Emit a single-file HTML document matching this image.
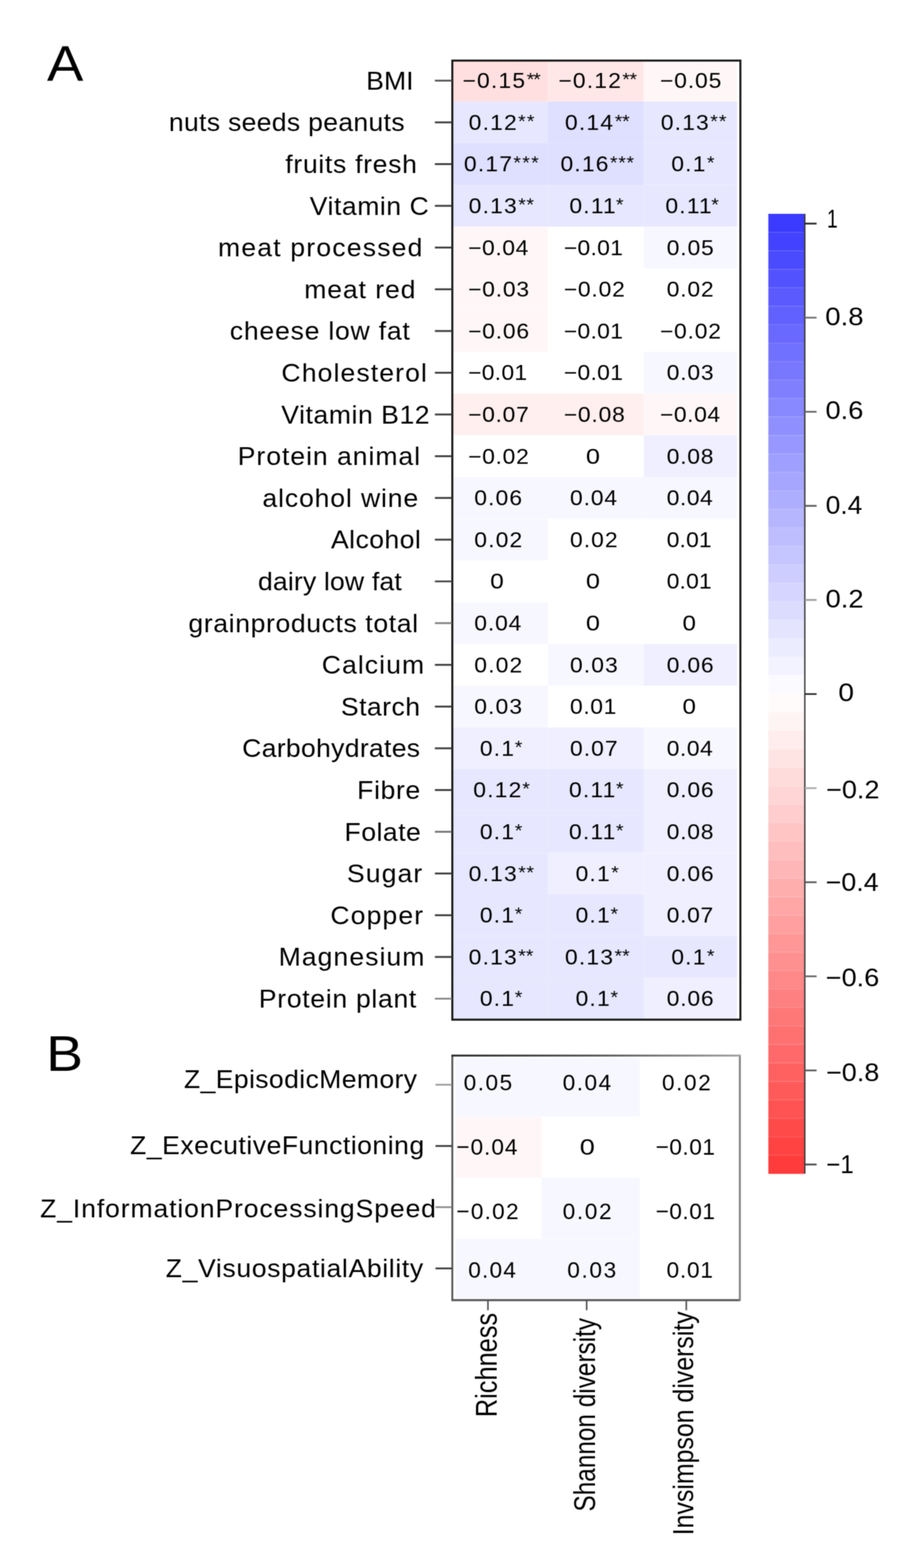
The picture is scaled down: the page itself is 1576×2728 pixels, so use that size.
<!DOCTYPE html>
<html><head><meta charset="utf-8"><title>Figure</title>
<style>html,body{margin:0;padding:0;background:#fff;}svg{display:block;}</style>
</head><body>
<svg width="1576" height="2728" viewBox="0 0 1576 2728" font-family='"Liberation Sans", Arial, Helvetica, sans-serif' fill="#000">
<defs><filter id="soft" color-interpolation-filters="sRGB" x="0" y="0" width="1576" height="2728" filterUnits="userSpaceOnUse" primitiveUnits="userSpaceOnUse"><feConvolveMatrix order="3" kernelMatrix="1 2 1 2 4 2 1 2 1" divisor="16" edgeMode="duplicate" preserveAlpha="true"/></filter></defs>
<rect width="1576" height="2728" fill="#fff"/>
<g filter="url(#soft)"><rect width="1576" height="2728" fill="#fff"/>
<rect x="788.0" y="104.0" width="165.2" height="72.6" fill="rgb(255,223,223)"/>
<rect x="953.2" y="104.0" width="166.5" height="72.6" fill="rgb(255,231,231)"/>
<rect x="1119.7" y="104.0" width="162.3" height="72.6" fill="rgb(255,247,247)"/>
<rect x="788.0" y="176.6" width="165.2" height="72.6" fill="rgb(231,231,255)"/>
<rect x="953.2" y="176.6" width="166.5" height="72.6" fill="rgb(223,223,255)"/>
<rect x="1119.7" y="176.6" width="162.3" height="72.6" fill="rgb(231,231,255)"/>
<rect x="788.0" y="249.2" width="165.2" height="72.6" fill="rgb(223,223,255)"/>
<rect x="953.2" y="249.2" width="166.5" height="72.6" fill="rgb(223,223,255)"/>
<rect x="1119.7" y="249.2" width="162.3" height="72.6" fill="rgb(231,231,255)"/>
<rect x="788.0" y="321.8" width="165.2" height="72.6" fill="rgb(231,231,255)"/>
<rect x="953.2" y="321.8" width="166.5" height="72.6" fill="rgb(231,231,255)"/>
<rect x="1119.7" y="321.8" width="162.3" height="72.6" fill="rgb(231,231,255)"/>
<rect x="788.0" y="394.4" width="165.2" height="72.6" fill="rgb(255,247,247)"/>
<rect x="1119.7" y="394.4" width="162.3" height="72.6" fill="rgb(247,247,255)"/>
<rect x="788.0" y="467.0" width="165.2" height="72.6" fill="rgb(255,247,247)"/>
<rect x="788.0" y="539.6" width="165.2" height="72.6" fill="rgb(255,247,247)"/>
<rect x="1119.7" y="612.2" width="162.3" height="72.6" fill="rgb(247,247,255)"/>
<rect x="788.0" y="684.8" width="165.2" height="72.6" fill="rgb(255,239,239)"/>
<rect x="953.2" y="684.8" width="166.5" height="72.6" fill="rgb(255,239,239)"/>
<rect x="1119.7" y="684.8" width="162.3" height="72.6" fill="rgb(255,247,247)"/>
<rect x="1119.7" y="757.4" width="162.3" height="72.6" fill="rgb(239,239,255)"/>
<rect x="788.0" y="830.0" width="165.2" height="72.6" fill="rgb(247,247,255)"/>
<rect x="953.2" y="830.0" width="166.5" height="72.6" fill="rgb(247,247,255)"/>
<rect x="1119.7" y="830.0" width="162.3" height="72.6" fill="rgb(247,247,255)"/>
<rect x="788.0" y="902.6" width="165.2" height="72.6" fill="rgb(247,247,255)"/>
<rect x="788.0" y="1047.8" width="165.2" height="72.6" fill="rgb(247,247,255)"/>
<rect x="953.2" y="1120.4" width="166.5" height="72.6" fill="rgb(247,247,255)"/>
<rect x="1119.7" y="1120.4" width="162.3" height="72.6" fill="rgb(239,239,255)"/>
<rect x="788.0" y="1193.0" width="165.2" height="72.6" fill="rgb(247,247,255)"/>
<rect x="788.0" y="1265.6" width="165.2" height="72.6" fill="rgb(239,239,255)"/>
<rect x="953.2" y="1265.6" width="166.5" height="72.6" fill="rgb(239,239,255)"/>
<rect x="1119.7" y="1265.6" width="162.3" height="72.6" fill="rgb(247,247,255)"/>
<rect x="788.0" y="1338.2" width="165.2" height="72.6" fill="rgb(231,231,255)"/>
<rect x="953.2" y="1338.2" width="166.5" height="72.6" fill="rgb(231,231,255)"/>
<rect x="1119.7" y="1338.2" width="162.3" height="72.6" fill="rgb(239,239,255)"/>
<rect x="788.0" y="1410.8" width="165.2" height="72.6" fill="rgb(231,231,255)"/>
<rect x="953.2" y="1410.8" width="166.5" height="72.6" fill="rgb(231,231,255)"/>
<rect x="1119.7" y="1410.8" width="162.3" height="72.6" fill="rgb(239,239,255)"/>
<rect x="788.0" y="1483.4" width="165.2" height="72.6" fill="rgb(231,231,255)"/>
<rect x="953.2" y="1483.4" width="166.5" height="72.6" fill="rgb(239,239,255)"/>
<rect x="1119.7" y="1483.4" width="162.3" height="72.6" fill="rgb(239,239,255)"/>
<rect x="788.0" y="1556.0" width="165.2" height="72.6" fill="rgb(231,231,255)"/>
<rect x="953.2" y="1556.0" width="166.5" height="72.6" fill="rgb(231,231,255)"/>
<rect x="1119.7" y="1556.0" width="162.3" height="72.6" fill="rgb(239,239,255)"/>
<rect x="788.0" y="1628.6" width="165.2" height="72.6" fill="rgb(231,231,255)"/>
<rect x="953.2" y="1628.6" width="166.5" height="72.6" fill="rgb(231,231,255)"/>
<rect x="1119.7" y="1628.6" width="162.3" height="72.6" fill="rgb(231,231,255)"/>
<rect x="788.0" y="1701.2" width="165.2" height="72.6" fill="rgb(231,231,255)"/>
<rect x="953.2" y="1701.2" width="166.5" height="72.6" fill="rgb(231,231,255)"/>
<rect x="1119.7" y="1701.2" width="162.3" height="72.6" fill="rgb(239,239,255)"/>
<rect x="786.8" y="105.4" width="501.1" height="1668.6" fill="none" stroke="#161616" stroke-width="3.5"/>
<line x1="756.5" y1="140.3" x2="786" y2="140.3" stroke="#555" stroke-width="3.2"/>
<line x1="756.5" y1="212.9" x2="786" y2="212.9" stroke="#3a3a3a" stroke-width="3.2"/>
<line x1="756.5" y1="285.5" x2="786" y2="285.5" stroke="#3a3a3a" stroke-width="3.2"/>
<line x1="756.5" y1="358.1" x2="786" y2="358.1" stroke="#3a3a3a" stroke-width="3.2"/>
<line x1="756.5" y1="430.7" x2="786" y2="430.7" stroke="#3a3a3a" stroke-width="3.2"/>
<line x1="756.5" y1="503.3" x2="786" y2="503.3" stroke="#3a3a3a" stroke-width="3.2"/>
<line x1="756.5" y1="575.9" x2="786" y2="575.9" stroke="#3a3a3a" stroke-width="3.2"/>
<line x1="756.5" y1="648.5" x2="786" y2="648.5" stroke="#3a3a3a" stroke-width="3.2"/>
<line x1="756.5" y1="721.1" x2="786" y2="721.1" stroke="#3a3a3a" stroke-width="3.2"/>
<line x1="756.5" y1="793.7" x2="786" y2="793.7" stroke="#3a3a3a" stroke-width="3.2"/>
<line x1="756.5" y1="866.3" x2="786" y2="866.3" stroke="#3a3a3a" stroke-width="3.2"/>
<line x1="756.5" y1="938.9" x2="786" y2="938.9" stroke="#3a3a3a" stroke-width="3.2"/>
<line x1="756.5" y1="1011.5" x2="786" y2="1011.5" stroke="#4a4a4a" stroke-width="3.2"/>
<line x1="756.5" y1="1084.1" x2="786" y2="1084.1" stroke="#808080" stroke-width="3.2"/>
<line x1="756.5" y1="1156.7" x2="786" y2="1156.7" stroke="#3a3a3a" stroke-width="3.2"/>
<line x1="756.5" y1="1229.3" x2="786" y2="1229.3" stroke="#3a3a3a" stroke-width="3.2"/>
<line x1="756.5" y1="1301.9" x2="786" y2="1301.9" stroke="#3a3a3a" stroke-width="3.2"/>
<line x1="756.5" y1="1374.5" x2="786" y2="1374.5" stroke="#3a3a3a" stroke-width="3.2"/>
<line x1="756.5" y1="1447.1" x2="786" y2="1447.1" stroke="#707070" stroke-width="3.2"/>
<line x1="756.5" y1="1519.7" x2="786" y2="1519.7" stroke="#3a3a3a" stroke-width="3.2"/>
<line x1="756.5" y1="1592.3" x2="786" y2="1592.3" stroke="#3a3a3a" stroke-width="3.2"/>
<line x1="756.5" y1="1664.9" x2="786" y2="1664.9" stroke="#3a3a3a" stroke-width="3.2"/>
<line x1="756.5" y1="1737.5" x2="786" y2="1737.5" stroke="#8a8a8a" stroke-width="3.2"/>
<text transform="translate(637.10 155.70) scale(1.0500 1)" font-size="44.00" letter-spacing="0.02">BMI</text>
<text transform="translate(293.80 228.30) scale(1.0500 1)" font-size="44.00" letter-spacing="0.52">nuts seeds peanuts</text>
<text transform="translate(496.31 300.90) scale(1.0500 1)" font-size="44.00" letter-spacing="1.14">fruits fresh</text>
<text transform="translate(538.77 373.50) scale(1.0500 1)" font-size="44.00" letter-spacing="0.92">Vitamin C</text>
<text transform="translate(379.30 446.10) scale(1.0500 1)" font-size="44.00" letter-spacing="1.96">meat processed</text>
<text transform="translate(529.20 518.70) scale(1.0500 1)" font-size="44.00" letter-spacing="1.52">meat red</text>
<text transform="translate(399.82 591.30) scale(1.0500 1)" font-size="44.00" letter-spacing="1.30">cheese low fat</text>
<text transform="translate(489.59 663.90) scale(1.0500 1)" font-size="44.00" letter-spacing="1.84">Cholesterol</text>
<text transform="translate(489.27 736.50) scale(1.0500 1)" font-size="44.00" letter-spacing="0.93">Vitamin B12</text>
<text transform="translate(413.60 809.10) scale(1.0500 1)" font-size="44.00" letter-spacing="1.60">Protein animal</text>
<text transform="translate(456.52 881.70) scale(1.0500 1)" font-size="44.00" letter-spacing="1.45">alcohol wine</text>
<text transform="translate(575.77 954.30) scale(1.0500 1)" font-size="44.00" letter-spacing="0.75">Alcohol</text>
<text transform="translate(448.75 1026.90) scale(1.0500 1)" font-size="44.00" letter-spacing="0.29">dairy low fat</text>
<text transform="translate(327.85 1099.50) scale(1.0500 1)" font-size="44.00" letter-spacing="1.02">grainproducts total</text>
<text transform="translate(559.69 1172.10) scale(1.0500 1)" font-size="44.00" letter-spacing="1.77">Calcium</text>
<text transform="translate(593.12 1244.70) scale(1.0500 1)" font-size="44.00" letter-spacing="0.76">Starch</text>
<text transform="translate(421.29 1317.30) scale(1.0500 1)" font-size="44.00" letter-spacing="0.51">Carbohydrates</text>
<text transform="translate(621.30 1389.90) scale(1.0500 1)" font-size="44.00" letter-spacing="1.06">Fibre</text>
<text transform="translate(599.30 1462.50) scale(1.0500 1)" font-size="44.00" letter-spacing="0.83">Folate</text>
<text transform="translate(603.62 1535.10) scale(1.0500 1)" font-size="44.00" letter-spacing="1.80">Sugar</text>
<text transform="translate(574.69 1607.70) scale(1.0500 1)" font-size="44.00" letter-spacing="1.86">Copper</text>
<text transform="translate(484.70 1680.30) scale(1.0500 1)" font-size="44.00" letter-spacing="1.76">Magnesium</text>
<text transform="translate(450.30 1752.90) scale(1.0500 1)" font-size="44.00" letter-spacing="1.15">Protein plant</text>
<text transform="translate(804.51 153.10) scale(1.0800 1)" font-size="36.80" letter-spacing="1.90">−0.15</text><text transform="translate(916.18 149.29) scale(1.0800 1)" font-size="31.28" letter-spacing="-1.71">**</text>
<text transform="translate(971.31 153.10) scale(1.0800 1)" font-size="36.80" letter-spacing="1.90">−0.12</text><text transform="translate(1082.58 149.29) scale(1.0800 1)" font-size="31.28" letter-spacing="-0.61">**</text>
<text transform="translate(1148.01 153.10) scale(1.0800 1)" font-size="36.80" letter-spacing="1.46">−0.05</text>
<text transform="translate(815.31 225.70) scale(1.0800 1)" font-size="36.80" letter-spacing="1.90">0.12</text><text transform="translate(901.27 221.89) scale(1.0800 1)" font-size="31.28" letter-spacing="1.90">**</text>
<text transform="translate(982.81 225.70) scale(1.0800 1)" font-size="36.80" letter-spacing="1.90">0.14</text><text transform="translate(1069.57 221.89) scale(1.0800 1)" font-size="31.28" letter-spacing="-0.50">**</text>
<text transform="translate(1149.41 225.70) scale(1.0800 1)" font-size="36.80" letter-spacing="1.90">0.13</text><text transform="translate(1235.57 221.89) scale(1.0800 1)" font-size="31.28" letter-spacing="1.62">**</text>
<text transform="translate(807.01 298.30) scale(1.0800 1)" font-size="36.80" letter-spacing="1.90">0.17</text><text transform="translate(892.97 294.49) scale(1.0800 1)" font-size="31.28" letter-spacing="2.21">***</text>
<text transform="translate(974.91 298.30) scale(1.0800 1)" font-size="36.80" letter-spacing="1.90">0.16</text><text transform="translate(1061.07 294.49) scale(1.0800 1)" font-size="31.28" letter-spacing="1.15">***</text>
<text transform="translate(1167.71 298.30) scale(1.0800 1)" font-size="36.80" letter-spacing="1.90">0.1</text><text transform="translate(1229.70 294.49) scale(1.0800 1)" font-size="31.28" letter-spacing="0.00">*</text>
<text transform="translate(815.31 370.90) scale(1.0800 1)" font-size="36.80" letter-spacing="1.90">0.13</text><text transform="translate(901.47 367.09) scale(1.0800 1)" font-size="31.28" letter-spacing="1.07">**</text>
<text transform="translate(990.41 370.90) scale(1.0800 1)" font-size="36.80" letter-spacing="1.90">0.11</text><text transform="translate(1071.50 367.09) scale(1.0800 1)" font-size="31.28" letter-spacing="0.00">*</text>
<text transform="translate(1157.41 370.90) scale(1.0800 1)" font-size="36.80" letter-spacing="1.90">0.11</text><text transform="translate(1237.30 367.09) scale(1.0800 1)" font-size="31.28" letter-spacing="0.00">*</text>
<text transform="translate(814.21 443.50) scale(1.0800 1)" font-size="36.80" letter-spacing="0.98">−0.04</text>
<text transform="translate(980.71 443.50) scale(1.0800 1)" font-size="36.80" letter-spacing="0.54">−0.01</text>
<text transform="translate(1159.71 443.50) scale(1.0800 1)" font-size="36.80" letter-spacing="1.41">0.05</text>
<text transform="translate(814.21 516.10) scale(1.0800 1)" font-size="36.80" letter-spacing="1.28">−0.03</text>
<text transform="translate(980.71 516.10) scale(1.0800 1)" font-size="36.80" letter-spacing="1.32">−0.02</text>
<text transform="translate(1159.71 516.10) scale(1.0800 1)" font-size="36.80" letter-spacing="1.35">0.02</text>
<text transform="translate(814.21 588.70) scale(1.0800 1)" font-size="36.80" letter-spacing="1.28">−0.06</text>
<text transform="translate(980.71 588.70) scale(1.0800 1)" font-size="36.80" letter-spacing="0.54">−0.01</text>
<text transform="translate(1147.91 588.70) scale(1.0800 1)" font-size="36.80" letter-spacing="1.32">−0.02</text>
<text transform="translate(814.21 661.30) scale(1.0800 1)" font-size="36.80" letter-spacing="0.51">−0.01</text>
<text transform="translate(980.71 661.30) scale(1.0800 1)" font-size="36.80" letter-spacing="0.54">−0.01</text>
<text transform="translate(1159.71 661.30) scale(1.0800 1)" font-size="36.80" letter-spacing="1.29">0.03</text>
<text transform="translate(814.21 733.90) scale(1.0800 1)" font-size="36.80" letter-spacing="1.16">−0.07</text>
<text transform="translate(980.71 733.90) scale(1.0800 1)" font-size="36.80" letter-spacing="1.28">−0.08</text>
<text transform="translate(1147.91 733.90) scale(1.0800 1)" font-size="36.80" letter-spacing="0.98">−0.04</text>
<text transform="translate(814.21 806.50) scale(1.0800 1)" font-size="36.80" letter-spacing="1.16">−0.02</text>
<text transform="translate(1019.15 806.50) scale(1.1899 1)" font-size="36.80" letter-spacing="0.00">0</text>
<text transform="translate(1159.71 806.50) scale(1.0800 1)" font-size="36.80" letter-spacing="1.23">0.08</text>
<text transform="translate(825.01 879.10) scale(1.0800 1)" font-size="36.80" letter-spacing="1.81">0.06</text>
<text transform="translate(991.51 879.10) scale(1.0800 1)" font-size="36.80" letter-spacing="1.41">0.04</text>
<text transform="translate(1159.71 879.10) scale(1.0800 1)" font-size="36.80" letter-spacing="0.89">0.04</text>
<text transform="translate(825.01 951.70) scale(1.0800 1)" font-size="36.80" letter-spacing="1.87">0.02</text>
<text transform="translate(991.51 951.70) scale(1.0800 1)" font-size="36.80" letter-spacing="1.66">0.02</text>
<text transform="translate(1159.71 951.70) scale(1.0800 1)" font-size="36.80" letter-spacing="0.27">0.01</text>
<text transform="translate(852.71 1024.30) scale(1.1499 1)" font-size="36.80" letter-spacing="0.00">0</text>
<text transform="translate(1019.15 1024.30) scale(1.1899 1)" font-size="36.80" letter-spacing="0.00">0</text>
<text transform="translate(1159.71 1024.30) scale(1.0800 1)" font-size="36.80" letter-spacing="0.27">0.01</text>
<text transform="translate(825.01 1096.90) scale(1.0800 1)" font-size="36.80" letter-spacing="1.41">0.04</text>
<text transform="translate(1019.15 1096.90) scale(1.1899 1)" font-size="36.80" letter-spacing="0.00">0</text>
<text transform="translate(1187.32 1096.90) scale(1.1384 1)" font-size="36.80" letter-spacing="0.00">0</text>
<text transform="translate(825.01 1169.50) scale(1.0800 1)" font-size="36.80" letter-spacing="1.87">0.02</text>
<text transform="translate(991.51 1169.50) scale(1.0800 1)" font-size="36.80" letter-spacing="1.81">0.03</text>
<text transform="translate(1159.71 1169.50) scale(1.0800 1)" font-size="36.80" letter-spacing="1.29">0.06</text>
<text transform="translate(825.01 1242.10) scale(1.0800 1)" font-size="36.80" letter-spacing="1.81">0.03</text>
<text transform="translate(991.51 1242.10) scale(1.0800 1)" font-size="36.80" letter-spacing="1.01">0.01</text>
<text transform="translate(1187.32 1242.10) scale(1.1384 1)" font-size="36.80" letter-spacing="0.00">0</text>
<text transform="translate(834.71 1314.70) scale(1.0800 1)" font-size="36.80" letter-spacing="1.90">0.1</text><text transform="translate(895.60 1310.89) scale(1.0800 1)" font-size="31.28" letter-spacing="0.00">*</text>
<text transform="translate(991.51 1314.70) scale(1.0800 1)" font-size="36.80" letter-spacing="1.66">0.07</text>
<text transform="translate(1159.71 1314.70) scale(1.0800 1)" font-size="36.80" letter-spacing="0.89">0.04</text>
<text transform="translate(823.31 1387.30) scale(1.0800 1)" font-size="36.80" letter-spacing="1.90">0.12</text><text transform="translate(908.50 1383.49) scale(1.0800 1)" font-size="31.28" letter-spacing="0.00">*</text>
<text transform="translate(989.81 1387.30) scale(1.0800 1)" font-size="36.80" letter-spacing="1.90">0.11</text><text transform="translate(1071.50 1383.49) scale(1.0800 1)" font-size="31.28" letter-spacing="0.00">*</text>
<text transform="translate(1159.71 1387.30) scale(1.0800 1)" font-size="36.80" letter-spacing="1.29">0.06</text>
<text transform="translate(834.71 1459.90) scale(1.0800 1)" font-size="36.80" letter-spacing="1.90">0.1</text><text transform="translate(895.60 1456.09) scale(1.0800 1)" font-size="31.28" letter-spacing="0.00">*</text>
<text transform="translate(989.81 1459.90) scale(1.0800 1)" font-size="36.80" letter-spacing="1.90">0.11</text><text transform="translate(1071.50 1456.09) scale(1.0800 1)" font-size="31.28" letter-spacing="0.00">*</text>
<text transform="translate(1159.71 1459.90) scale(1.0800 1)" font-size="36.80" letter-spacing="1.23">0.08</text>
<text transform="translate(815.31 1532.50) scale(1.0800 1)" font-size="36.80" letter-spacing="1.90">0.13</text><text transform="translate(901.47 1528.69) scale(1.0800 1)" font-size="31.28" letter-spacing="1.07">**</text>
<text transform="translate(1001.21 1532.50) scale(1.0800 1)" font-size="36.80" letter-spacing="1.90">0.1</text><text transform="translate(1063.20 1528.69) scale(1.0800 1)" font-size="31.28" letter-spacing="0.00">*</text>
<text transform="translate(1159.71 1532.50) scale(1.0800 1)" font-size="36.80" letter-spacing="1.29">0.06</text>
<text transform="translate(834.71 1605.10) scale(1.0800 1)" font-size="36.80" letter-spacing="1.90">0.1</text><text transform="translate(895.60 1601.29) scale(1.0800 1)" font-size="31.28" letter-spacing="0.00">*</text>
<text transform="translate(1001.21 1605.10) scale(1.0800 1)" font-size="36.80" letter-spacing="1.90">0.1</text><text transform="translate(1062.10 1601.29) scale(1.0800 1)" font-size="31.28" letter-spacing="0.00">*</text>
<text transform="translate(1159.71 1605.10) scale(1.0800 1)" font-size="36.80" letter-spacing="1.13">0.07</text>
<text transform="translate(815.31 1677.70) scale(1.0800 1)" font-size="36.80" letter-spacing="1.90">0.13</text><text transform="translate(901.47 1673.89) scale(1.0800 1)" font-size="31.28" letter-spacing="0.05">**</text>
<text transform="translate(982.81 1677.70) scale(1.0800 1)" font-size="36.80" letter-spacing="1.90">0.13</text><text transform="translate(1068.97 1673.89) scale(1.0800 1)" font-size="31.28" letter-spacing="0.05">**</text>
<text transform="translate(1167.71 1677.70) scale(1.0800 1)" font-size="36.80" letter-spacing="1.90">0.1</text><text transform="translate(1229.70 1673.89) scale(1.0800 1)" font-size="31.28" letter-spacing="0.00">*</text>
<text transform="translate(834.71 1750.30) scale(1.0800 1)" font-size="36.80" letter-spacing="1.90">0.1</text><text transform="translate(895.60 1746.49) scale(1.0800 1)" font-size="31.28" letter-spacing="0.00">*</text>
<text transform="translate(1001.21 1750.30) scale(1.0800 1)" font-size="36.80" letter-spacing="1.90">0.1</text><text transform="translate(1062.10 1746.49) scale(1.0800 1)" font-size="31.28" letter-spacing="0.00">*</text>
<text transform="translate(1159.71 1750.30) scale(1.0800 1)" font-size="36.80" letter-spacing="1.29">0.06</text>
<rect x="792.5" y="1841.0" width="149.5" height="101.5" fill="rgb(247,247,255)"/>
<rect x="942.0" y="1841.0" width="171.0" height="101.5" fill="rgb(247,247,255)"/>
<rect x="792.5" y="1942.5" width="149.5" height="106.5" fill="rgb(255,247,247)"/>
<rect x="942.0" y="2049.0" width="171.0" height="106.5" fill="rgb(247,247,255)"/>
<rect x="792.5" y="2155.5" width="149.5" height="106.5" fill="rgb(247,247,255)"/>
<rect x="942.0" y="2155.5" width="171.0" height="106.5" fill="rgb(247,247,255)"/>
<defs><linearGradient id="btop" x1="0" x2="1" y1="0" y2="0"><stop offset="0" stop-color="#2a2a2a"/><stop offset="0.5" stop-color="#555"/><stop offset="1" stop-color="#a0a0a0"/></linearGradient></defs>
<path d="M786.8 1836.5 V2262 H1287" fill="none" stroke="#555" stroke-width="3.3"/>
<path d="M1287 1836.5 V2263.6" fill="none" stroke="#808080" stroke-width="3.3"/>
<rect x="785.15" y="1834.8" width="503.5" height="3.4" fill="url(#btop)"/>
<line x1="757.5" y1="1887.2" x2="786" y2="1887.2" stroke="#9a9a9a" stroke-width="3"/>
<line x1="757.5" y1="1993.8" x2="786" y2="1993.8" stroke="#333" stroke-width="3"/>
<line x1="757.5" y1="2100.2" x2="786" y2="2100.2" stroke="#8a8a8a" stroke-width="3"/>
<line x1="757.5" y1="2206.8" x2="786" y2="2206.8" stroke="#333" stroke-width="3"/>
<text transform="translate(320.11 1892.70) scale(1.0500 1)" font-size="44.00" letter-spacing="0.63">Z_EpisodicMemory</text>
<text transform="translate(226.31 2008.40) scale(1.0500 1)" font-size="44.00" letter-spacing="0.84">Z_ExecutiveFunctioning</text>
<text transform="translate(69.81 2117.60) scale(1.0500 1)" font-size="44.00" letter-spacing="1.46">Z_InformationProcessingSpeed</text>
<text transform="translate(288.31 2221.80) scale(1.0500 1)" font-size="44.00" letter-spacing="1.07">Z_VisuospatialAbility</text>
<text transform="translate(806.42 1897.40) scale(1.0000 1)" font-size="39.40" letter-spacing="2.61">0.05</text>
<text transform="translate(978.82 1897.40) scale(1.0000 1)" font-size="39.40" letter-spacing="2.58">0.04</text>
<text transform="translate(1151.42 1897.40) scale(1.0000 1)" font-size="39.40" letter-spacing="2.74">0.02</text>
<text transform="translate(793.83 2008.60) scale(1.0000 1)" font-size="39.40" letter-spacing="1.69">−0.04</text>
<text transform="translate(1008.61 2008.60) scale(1.1969 1)" font-size="39.40" letter-spacing="0.00">0</text>
<text transform="translate(1140.53 2008.60) scale(1.0000 1)" font-size="39.40" letter-spacing="0.84">−0.01</text>
<text transform="translate(793.83 2120.60) scale(1.0000 1)" font-size="39.40" letter-spacing="2.14">−0.02</text>
<text transform="translate(978.82 2120.60) scale(1.0000 1)" font-size="39.40" letter-spacing="2.84">0.02</text>
<text transform="translate(1140.53 2120.60) scale(1.0000 1)" font-size="39.40" letter-spacing="0.84">−0.01</text>
<text transform="translate(814.52 2223.00) scale(1.0000 1)" font-size="39.40" letter-spacing="2.11">0.04</text>
<text transform="translate(986.82 2223.00) scale(1.0000 1)" font-size="39.40" letter-spacing="2.77">0.03</text>
<text transform="translate(1159.42 2223.00) scale(1.0000 1)" font-size="39.40" letter-spacing="1.34">0.01</text>
<line x1="848.8" y1="2262" x2="848.8" y2="2279.5" stroke="#555" stroke-width="2.8"/>
<line x1="1020.5" y1="2262" x2="1020.5" y2="2279.5" stroke="#555" stroke-width="2.8"/>
<line x1="1193.8" y1="2262" x2="1193.8" y2="2279.5" stroke="#555" stroke-width="2.8"/>
<text transform="translate(864.30 2465.53) scale(1.1731 1) rotate(-90)" font-size="44.11">Richness</text>
<text transform="translate(1035.20 2629.71) scale(1.2003 1) rotate(-90)" font-size="42.38">Shannon diversity</text>
<text transform="translate(1206.20 2670.99) scale(1.1556 1) rotate(-90)" font-size="43.27">Invsimpson diversity</text>
<rect x="1336.5" y="372.00" width="62.5" height="32.42" fill="rgb(59,59,255)"/>
<rect x="1336.5" y="404.12" width="62.5" height="32.42" fill="rgb(67,67,255)"/>
<rect x="1336.5" y="436.23" width="62.5" height="32.42" fill="rgb(74,74,255)"/>
<rect x="1336.5" y="468.35" width="62.5" height="32.42" fill="rgb(82,82,255)"/>
<rect x="1336.5" y="500.46" width="62.5" height="32.42" fill="rgb(90,90,255)"/>
<rect x="1336.5" y="532.58" width="62.5" height="32.42" fill="rgb(97,97,255)"/>
<rect x="1336.5" y="564.69" width="62.5" height="32.42" fill="rgb(105,105,255)"/>
<rect x="1336.5" y="596.81" width="62.5" height="32.42" fill="rgb(113,113,255)"/>
<rect x="1336.5" y="628.92" width="62.5" height="32.42" fill="rgb(120,120,255)"/>
<rect x="1336.5" y="661.04" width="62.5" height="32.42" fill="rgb(128,128,255)"/>
<rect x="1336.5" y="693.15" width="62.5" height="32.42" fill="rgb(136,136,255)"/>
<rect x="1336.5" y="725.27" width="62.5" height="32.42" fill="rgb(143,143,255)"/>
<rect x="1336.5" y="757.38" width="62.5" height="32.42" fill="rgb(151,151,255)"/>
<rect x="1336.5" y="789.50" width="62.5" height="32.42" fill="rgb(159,159,255)"/>
<rect x="1336.5" y="821.62" width="62.5" height="32.42" fill="rgb(166,166,255)"/>
<rect x="1336.5" y="853.73" width="62.5" height="32.42" fill="rgb(174,174,255)"/>
<rect x="1336.5" y="885.85" width="62.5" height="32.42" fill="rgb(182,182,255)"/>
<rect x="1336.5" y="917.96" width="62.5" height="32.42" fill="rgb(190,190,255)"/>
<rect x="1336.5" y="950.08" width="62.5" height="32.42" fill="rgb(197,197,255)"/>
<rect x="1336.5" y="982.19" width="62.5" height="32.42" fill="rgb(205,205,255)"/>
<rect x="1336.5" y="1014.31" width="62.5" height="32.42" fill="rgb(213,213,255)"/>
<rect x="1336.5" y="1046.42" width="62.5" height="32.42" fill="rgb(220,220,255)"/>
<rect x="1336.5" y="1078.54" width="62.5" height="32.42" fill="rgb(228,228,255)"/>
<rect x="1336.5" y="1110.65" width="62.5" height="32.42" fill="rgb(236,236,255)"/>
<rect x="1336.5" y="1142.77" width="62.5" height="32.42" fill="rgb(243,243,255)"/>
<rect x="1336.5" y="1174.88" width="62.5" height="32.42" fill="rgb(251,251,255)"/>
<rect x="1336.5" y="1207.00" width="62.5" height="32.42" fill="rgb(255,251,251)"/>
<rect x="1336.5" y="1239.12" width="62.5" height="32.42" fill="rgb(255,244,244)"/>
<rect x="1336.5" y="1271.23" width="62.5" height="32.42" fill="rgb(255,236,236)"/>
<rect x="1336.5" y="1303.35" width="62.5" height="32.42" fill="rgb(255,228,228)"/>
<rect x="1336.5" y="1335.46" width="62.5" height="32.42" fill="rgb(255,220,220)"/>
<rect x="1336.5" y="1367.58" width="62.5" height="32.42" fill="rgb(255,213,213)"/>
<rect x="1336.5" y="1399.69" width="62.5" height="32.42" fill="rgb(255,205,205)"/>
<rect x="1336.5" y="1431.81" width="62.5" height="32.42" fill="rgb(255,197,197)"/>
<rect x="1336.5" y="1463.92" width="62.5" height="32.42" fill="rgb(255,190,190)"/>
<rect x="1336.5" y="1496.04" width="62.5" height="32.42" fill="rgb(255,182,182)"/>
<rect x="1336.5" y="1528.15" width="62.5" height="32.42" fill="rgb(255,174,174)"/>
<rect x="1336.5" y="1560.27" width="62.5" height="32.42" fill="rgb(255,167,167)"/>
<rect x="1336.5" y="1592.38" width="62.5" height="32.42" fill="rgb(255,159,159)"/>
<rect x="1336.5" y="1624.50" width="62.5" height="32.42" fill="rgb(255,151,151)"/>
<rect x="1336.5" y="1656.62" width="62.5" height="32.42" fill="rgb(255,144,144)"/>
<rect x="1336.5" y="1688.73" width="62.5" height="32.42" fill="rgb(255,136,136)"/>
<rect x="1336.5" y="1720.85" width="62.5" height="32.42" fill="rgb(255,128,128)"/>
<rect x="1336.5" y="1752.96" width="62.5" height="32.42" fill="rgb(255,120,120)"/>
<rect x="1336.5" y="1785.08" width="62.5" height="32.42" fill="rgb(255,113,113)"/>
<rect x="1336.5" y="1817.19" width="62.5" height="32.42" fill="rgb(255,105,105)"/>
<rect x="1336.5" y="1849.31" width="62.5" height="32.42" fill="rgb(255,97,97)"/>
<rect x="1336.5" y="1881.42" width="62.5" height="32.42" fill="rgb(255,90,90)"/>
<rect x="1336.5" y="1913.54" width="62.5" height="32.42" fill="rgb(255,82,82)"/>
<rect x="1336.5" y="1945.65" width="62.5" height="32.42" fill="rgb(255,74,74)"/>
<rect x="1336.5" y="1977.77" width="62.5" height="32.42" fill="rgb(255,67,67)"/>
<rect x="1336.5" y="2009.88" width="62.5" height="32.42" fill="rgb(255,59,59)"/>
<rect x="1336.5" y="403.32" width="60.5" height="1.6" fill="#fff" fill-opacity="0.13"/>
<rect x="1336.5" y="435.43" width="60.5" height="1.6" fill="#fff" fill-opacity="0.13"/>
<rect x="1336.5" y="467.55" width="60.5" height="1.6" fill="#fff" fill-opacity="0.13"/>
<rect x="1336.5" y="499.66" width="60.5" height="1.6" fill="#fff" fill-opacity="0.13"/>
<rect x="1336.5" y="531.78" width="60.5" height="1.6" fill="#fff" fill-opacity="0.13"/>
<rect x="1336.5" y="563.89" width="60.5" height="1.6" fill="#fff" fill-opacity="0.13"/>
<rect x="1336.5" y="596.01" width="60.5" height="1.6" fill="#fff" fill-opacity="0.13"/>
<rect x="1336.5" y="628.12" width="60.5" height="1.6" fill="#fff" fill-opacity="0.13"/>
<rect x="1336.5" y="660.24" width="60.5" height="1.6" fill="#fff" fill-opacity="0.13"/>
<rect x="1336.5" y="692.35" width="60.5" height="1.6" fill="#fff" fill-opacity="0.13"/>
<rect x="1336.5" y="724.47" width="60.5" height="1.6" fill="#fff" fill-opacity="0.13"/>
<rect x="1336.5" y="756.58" width="60.5" height="1.6" fill="#fff" fill-opacity="0.13"/>
<rect x="1336.5" y="788.70" width="60.5" height="1.6" fill="#fff" fill-opacity="0.13"/>
<rect x="1336.5" y="820.82" width="60.5" height="1.6" fill="#fff" fill-opacity="0.13"/>
<rect x="1336.5" y="852.93" width="60.5" height="1.6" fill="#fff" fill-opacity="0.13"/>
<rect x="1336.5" y="885.05" width="60.5" height="1.6" fill="#fff" fill-opacity="0.13"/>
<rect x="1336.5" y="917.16" width="60.5" height="1.6" fill="#fff" fill-opacity="0.13"/>
<rect x="1336.5" y="949.28" width="60.5" height="1.6" fill="#fff" fill-opacity="0.13"/>
<rect x="1336.5" y="981.39" width="60.5" height="1.6" fill="#fff" fill-opacity="0.13"/>
<rect x="1336.5" y="1013.51" width="60.5" height="1.6" fill="#fff" fill-opacity="0.13"/>
<rect x="1336.5" y="1045.62" width="60.5" height="1.6" fill="#fff" fill-opacity="0.13"/>
<rect x="1336.5" y="1077.74" width="60.5" height="1.6" fill="#fff" fill-opacity="0.13"/>
<rect x="1336.5" y="1109.85" width="60.5" height="1.6" fill="#fff" fill-opacity="0.13"/>
<rect x="1336.5" y="1141.97" width="60.5" height="1.6" fill="#fff" fill-opacity="0.13"/>
<rect x="1336.5" y="1174.08" width="60.5" height="1.6" fill="#fff" fill-opacity="0.13"/>
<rect x="1336.5" y="1206.20" width="60.5" height="1.6" fill="#fff" fill-opacity="0.13"/>
<rect x="1336.5" y="1238.32" width="60.5" height="1.6" fill="#fff" fill-opacity="0.13"/>
<rect x="1336.5" y="1270.43" width="60.5" height="1.6" fill="#fff" fill-opacity="0.13"/>
<rect x="1336.5" y="1302.55" width="60.5" height="1.6" fill="#fff" fill-opacity="0.13"/>
<rect x="1336.5" y="1334.66" width="60.5" height="1.6" fill="#fff" fill-opacity="0.13"/>
<rect x="1336.5" y="1366.78" width="60.5" height="1.6" fill="#fff" fill-opacity="0.13"/>
<rect x="1336.5" y="1398.89" width="60.5" height="1.6" fill="#fff" fill-opacity="0.13"/>
<rect x="1336.5" y="1431.01" width="60.5" height="1.6" fill="#fff" fill-opacity="0.13"/>
<rect x="1336.5" y="1463.12" width="60.5" height="1.6" fill="#fff" fill-opacity="0.13"/>
<rect x="1336.5" y="1495.24" width="60.5" height="1.6" fill="#fff" fill-opacity="0.13"/>
<rect x="1336.5" y="1527.35" width="60.5" height="1.6" fill="#fff" fill-opacity="0.13"/>
<rect x="1336.5" y="1559.47" width="60.5" height="1.6" fill="#fff" fill-opacity="0.13"/>
<rect x="1336.5" y="1591.58" width="60.5" height="1.6" fill="#fff" fill-opacity="0.13"/>
<rect x="1336.5" y="1623.70" width="60.5" height="1.6" fill="#fff" fill-opacity="0.13"/>
<rect x="1336.5" y="1655.82" width="60.5" height="1.6" fill="#fff" fill-opacity="0.13"/>
<rect x="1336.5" y="1687.93" width="60.5" height="1.6" fill="#fff" fill-opacity="0.13"/>
<rect x="1336.5" y="1720.05" width="60.5" height="1.6" fill="#fff" fill-opacity="0.13"/>
<rect x="1336.5" y="1752.16" width="60.5" height="1.6" fill="#fff" fill-opacity="0.13"/>
<rect x="1336.5" y="1784.28" width="60.5" height="1.6" fill="#fff" fill-opacity="0.13"/>
<rect x="1336.5" y="1816.39" width="60.5" height="1.6" fill="#fff" fill-opacity="0.13"/>
<rect x="1336.5" y="1848.51" width="60.5" height="1.6" fill="#fff" fill-opacity="0.13"/>
<rect x="1336.5" y="1880.62" width="60.5" height="1.6" fill="#fff" fill-opacity="0.13"/>
<rect x="1336.5" y="1912.74" width="60.5" height="1.6" fill="#fff" fill-opacity="0.13"/>
<rect x="1336.5" y="1944.85" width="60.5" height="1.6" fill="#fff" fill-opacity="0.13"/>
<rect x="1336.5" y="1976.97" width="60.5" height="1.6" fill="#fff" fill-opacity="0.13"/>
<rect x="1336.5" y="2009.08" width="60.5" height="1.6" fill="#fff" fill-opacity="0.13"/>
<line x1="1400" y1="372" x2="1400" y2="2042" stroke="#3a3a3a" stroke-width="2.4"/>
<line x1="1400" y1="389.0" x2="1420.5" y2="389.0" stroke="#222" stroke-width="3"/>
<line x1="1400" y1="552.7" x2="1420.5" y2="552.7" stroke="#707070" stroke-width="3"/>
<line x1="1400" y1="716.4" x2="1420.5" y2="716.4" stroke="#666" stroke-width="3"/>
<line x1="1400" y1="880.1" x2="1420.5" y2="880.1" stroke="#555" stroke-width="3"/>
<line x1="1400" y1="1043.8" x2="1420.5" y2="1043.8" stroke="#999" stroke-width="3"/>
<line x1="1400" y1="1207.5" x2="1420.5" y2="1207.5" stroke="#333" stroke-width="3"/>
<line x1="1400" y1="1371.2" x2="1420.5" y2="1371.2" stroke="#aaa" stroke-width="3"/>
<line x1="1400" y1="1534.9" x2="1420.5" y2="1534.9" stroke="#555" stroke-width="3"/>
<line x1="1400" y1="1698.6" x2="1420.5" y2="1698.6" stroke="#666" stroke-width="3"/>
<line x1="1400" y1="1862.3" x2="1420.5" y2="1862.3" stroke="#5a5a5a" stroke-width="3"/>
<line x1="1400" y1="2026.0" x2="1420.5" y2="2026.0" stroke="#444" stroke-width="3"/>
<text transform="translate(1438.47 396.00) scale(0.7494 1)" font-size="45.00">1</text>
<text transform="translate(1435.48 566.05) scale(1.0660 1)" font-size="45.00">0.8</text>
<text transform="translate(1436.01 728.75) scale(1.0507 1)" font-size="45.00">0.6</text>
<text transform="translate(1436.26 894.35) scale(1.0202 1)" font-size="45.00">0.4</text>
<text transform="translate(1436.09 1057.35) scale(1.0598 1)" font-size="45.00">0.2</text>
<text transform="translate(1458.24 1220.45) scale(1.0901 1)" font-size="45.00">0</text>
<text transform="translate(1436.95 1389.15) scale(1.0453 1)" font-size="45.00">−0.2</text>
<text transform="translate(1436.37 1550.25) scale(1.0366 1)" font-size="45.00">−0.4</text>
<text transform="translate(1436.34 1715.95) scale(1.0485 1)" font-size="45.00">−0.6</text>
<text transform="translate(1436.95 1880.65) scale(1.0426 1)" font-size="45.00">−0.8</text>
<text transform="translate(1437.20 2040.80) scale(0.9338 1)" font-size="45.00">−1</text>
<text transform="translate(81.83 141.20) scale(1.0790 1)" font-size="87.90">A</text>
<text transform="translate(80.30 1862.50) scale(1.1129 1)" font-size="86.50">B</text>
</g></svg>
</body></html>
